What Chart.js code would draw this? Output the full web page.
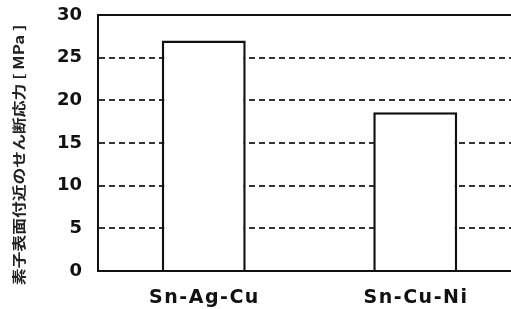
<!DOCTYPE html>
<html>
<head>
<meta charset="utf-8">
<script src="https://cdn.jsdelivr.net/npm/chart.js@4.4.0/dist/chart.umd.min.js"></script>
<style>
  html, body { margin: 0; padding: 0; background: #fff; overflow: hidden; }
  #wrap { width: 524px; height: 309px; }
</style>
</head>
<body>
<div id="wrap"><canvas id="shearChart" width="524" height="309"></canvas></div>
<script>
const alloys = ["Sn-Ag-Cu", "Sn-Cu-Ni"];
const shearStress = [27.0, 18.6];
const yTicks = [0, 5, 10, 15, 20, 25, 30];
const yTitle = "素子表面付近のせん断応力 [ MPa ]";

// category names + rotated axis title drawn by hand (need letter spacing / stretch)
const textPlugin = {
  id: 'textPlugin',
  afterDraw(chart) {
    const ctx = chart.ctx;
    const xs = chart.scales.x;
    const area = chart.chartArea;

    ctx.save();
    ctx.fillStyle = '#111';
    ctx.font = 'bold 19px "DejaVu Sans"';
    ctx.letterSpacing = '1.5px';
    ctx.textAlign = 'left';
    ctx.textBaseline = 'middle';
    alloys.forEach((name, i) => {
      const w = ctx.measureText(name).width - 1.5;
      ctx.fillText(name, xs.getPixelForTick(i) - w / 2, area.bottom + 27);
    });
    ctx.restore();

    ctx.save();
    ctx.translate(19, 155);
    ctx.rotate(-Math.PI / 2);
    ctx.scale(1.2, 1);
    ctx.fillStyle = '#222';
    ctx.font = 'bold 14px "Noto Sans CJK JP"';
    ctx.textAlign = 'center';
    ctx.textBaseline = 'middle';
    ctx.fillText(yTitle, 0, 0);
    ctx.restore();
  }
};

const ctx = document.getElementById('shearChart').getContext('2d');
new Chart(ctx, {
  type: 'bar',
  data: {
    labels: alloys,
    datasets: [{
      data: shearStress,
      backgroundColor: '#fff',
      borderColor: '#111',
      borderWidth: 2.5,
      categoryPercentage: 1,
      barPercentage: 0.397
    }]
  },
  options: {
    responsive: false,
    devicePixelRatio: 1,
    animation: false,
    layout: { padding: { top: 15, right: 3, bottom: 0, left: 0 } },
    plugins: {
      legend: { display: false },
      tooltip: { enabled: false }
    },
    scales: {
      x: {
        grid: { display: false },
        border: { display: true, color: '#111', width: 2 },
        ticks: { display: false },
        afterFit: s => { s.height = 38; s.paddingLeft = 0; s.paddingRight = 0; }
      },
      y: {
        min: 0,
        max: 30,
        afterBuildTicks: s => { s.ticks = yTicks.map(v => ({ value: v })); },
        afterFit: s => { s.width = 98; s.paddingTop = 0; s.paddingBottom = 0; },
        grid: {
          drawTicks: false,
          color: c => (c.tick && (c.tick.value === 30 || c.tick.value === 0)) ? '#111' : '#333',
          lineWidth: 2
        },
        border: {
          display: true,
          color: '#111',
          width: 2,
          dash: c => (c.tick && c.tick.value > 0 && c.tick.value < 30) ? [6, 4] : []
        },
        ticks: {
          padding: 16,
          color: '#111',
          font: { family: '"DejaVu Sans"', size: 18, weight: 'bold' }
        }
      }
    }
  },
  plugins: [textPlugin]
});
</script>
</body>
</html>
